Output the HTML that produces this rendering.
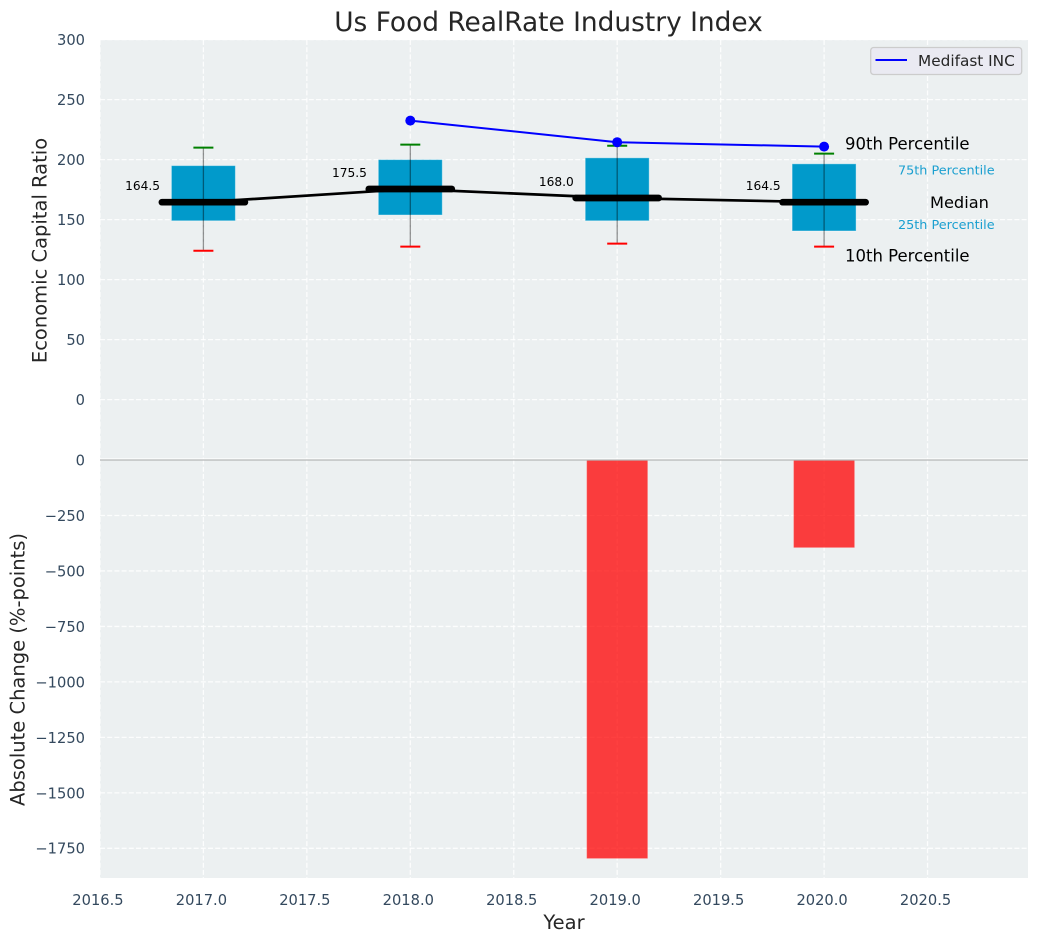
<!DOCTYPE html>
<html lang="en">
<head>
<meta charset="utf-8">
<title>Us Food RealRate Industry Index</title>
<style>
html,body{margin:0;padding:0;background:#fff}
svg{display:block}
text{font-family:"DejaVu Sans",sans-serif}
.tick{font-size:14.67px;fill:#34495e}
.axis-title{font-size:19.5px;fill:#262626}
</style>
</head>
<body>
<svg id="chart" xmlns="http://www.w3.org/2000/svg" width="1039" height="942" viewBox="0 0 1039 942">
  <rect x="0" y="0" width="1039" height="942" fill="#ffffff"/>
  <rect x="100" y="40" width="928" height="418.5" fill="#ecf0f1"/>
  <rect x="100" y="459.5" width="928" height="418.5" fill="#ecf0f1"/>
  <g id="grid"></g>
  <g id="bars"></g>
  <g id="boxes"></g>
  <g id="lines"></g>
  <g id="ticks"></g>
  <g id="notes"></g>
  <text x="548.5" y="31" text-anchor="middle" font-size="26.4" fill="#262626">Us Food RealRate Industry Index</text>
  <text class="axis-title" text-anchor="middle" transform="translate(46.5,250.5) rotate(-90)">Economic Capital Ratio</text>
  <text class="axis-title" text-anchor="middle" transform="translate(24.5,669.5) rotate(-90)">Absolute Change (%-points)</text>
  <text class="axis-title" x="564" y="929" text-anchor="middle">Year</text>
  <g>
    <rect x="870.7" y="47.5" width="151" height="27" rx="3" fill="#eaeaf2" stroke="#cccccc" stroke-width="1.3"/>
    <line x1="875.5" y1="60" x2="907" y2="60" stroke="#0000ff" stroke-width="2"/>
    <text x="918" y="66" font-size="15.3" fill="#262626">Medifast INC</text>
  </g>
</svg>
<script>
var years = [2017, 2018, 2019, 2020];
var p10 = [124, 127.5, 130, 127.5];
var p25 = [149, 153.8, 149, 140.5];
var medians = [164.5, 175.5, 168, 164.5];
var p75 = [195, 200, 201.5, 196.5];
var p90 = [210, 212.5, 211.5, 205];
var companyYears = [2018, 2019, 2020];
var companyValues = [232.5, 214.5, 210.8];
var changeYears = [2019, 2020];
var changeValues = [-1796, -395];
var xTicks = [2016.5, 2017, 2017.5, 2018, 2018.5, 2019, 2019.5, 2020, 2020.5];
var yTicksTop = [0, 50, 100, 150, 200, 250, 300];
var yTicksBottom = [0, -250, -500, -750, -1000, -1250, -1500, -1750];

function xScale(v) { return 203.4 + (v - 2017) * 206.9; }
function yTop(v) { return 399.6 - v * 1.2; }
function yBottom(v) { return 460 - v * 0.2219; }

var NS = 'http://www.w3.org/2000/svg';
function make(tag, parent, props) {
  var el = document.createElementNS(NS, tag);
  for (var k in props) { el.setAttribute(k, props[k]); }
  parent.appendChild(el);
  return el;
}
var gridG = document.getElementById('grid');
var barsG = document.getElementById('bars');
var boxesG = document.getElementById('boxes');
var linesG = document.getElementById('lines');
var ticksG = document.getElementById('ticks');
var notesG = document.getElementById('notes');
var GRID = {stroke: '#ffffff', 'stroke-width': 1.3, 'stroke-dasharray': '5,2.2', 'stroke-opacity': 0.85};
function gridProps(a, b, c, d) {
  return {x1: a, y1: b, x2: c, y2: d, stroke: GRID.stroke, 'stroke-width': GRID['stroke-width'], 'stroke-dasharray': GRID['stroke-dasharray'], 'stroke-opacity': GRID['stroke-opacity']};
}

xTicks.forEach(function (t) {
  var px = xScale(t);
  var g1 = make('line', gridG, gridProps(px, 40, px, 458.5));
  
  
  var g2 = make('line', gridG, gridProps(px, 459.5, px, 878));
  
  
  var label = make('text', ticksG, {x: px - 2, y: 905, 'text-anchor': 'middle', 'class': 'tick'});
  
  
  label.textContent = t.toFixed(1);
});
yTicksTop.forEach(function (t) {
  var py = yTop(t);
  var g = make('line', gridG, gridProps(100, py, 1028, py));
  
  
  var label = make('text', ticksG, {x: 85, y: py + 5.4, 'text-anchor': 'end', 'class': 'tick'});
  
  
  label.textContent = String(t);
});
yTicksBottom.forEach(function (t) {
  var py = yBottom(t);
  if (t !== 0) {
    var g = make('line', gridG, gridProps(100, py, 1028, py));
    
    
  }
  var label = make('text', ticksG, {x: 85, y: py + 5.4, 'text-anchor': 'end', 'class': 'tick'});
  
  
  label.textContent = String(t).replace('-', '\u2212');
});

var white = make('line', gridG, {x1: 100, y1: 459, x2: 1028, y2: 459, stroke: '#ffffff', 'stroke-width': 1.3});



changeValues.forEach(function (v, i) {
  var cx = xScale(changeYears[i]);
  var y0 = yBottom(0);
  var y1 = yBottom(v);
  var bar = make('rect', barsG, {x: cx - 30.5, y: y0, width: 61, height: y1 - y0, fill: '#ff0000', 'fill-opacity': 0.75, stroke: '#ffffff', 'stroke-opacity': 0.2, 'stroke-width': 1});
  
  
});
var zeroLine = make('line', barsG, {x1: 100, y1: yBottom(0), x2: 1028, y2: yBottom(0), stroke: '#b4b6b7', 'stroke-width': 1.3});



years.forEach(function (yr, i) {
  var cx = xScale(yr);
  var box = make('rect', boxesG, {x: cx - 32, y: yTop(p75[i]), width: 64, height: yTop(p25[i]) - yTop(p75[i]), fill: '#019acb', stroke: '#ffffff', 'stroke-opacity': 0.4, 'stroke-width': 1});
  
  
});

var mediansLine = make('polyline', linesG, {points: years.map(function (yr, i) { return xScale(yr) + ',' + yTop(medians[i]); }).join(' '), fill: 'none', stroke: '#000000', 'stroke-width': 2.7});



years.forEach(function (yr, i) {
  var cx = xScale(yr);
  var medianBar = make('line', linesG, {x1: cx - 41.5, y1: yTop(medians[i]), x2: cx + 41.5, y2: yTop(medians[i]), stroke: '#000000', 'stroke-width': 6.7, 'stroke-linecap': 'round'});
  
  
  var whisker = make('line', linesG, {x1: cx, y1: yTop(p90[i]), x2: cx, y2: yTop(p10[i]), stroke: '#000000', 'stroke-opacity': 0.42, 'stroke-width': 1.3});
  
  
  var capHigh = make('line', linesG, {x1: cx - 10, y1: yTop(p90[i]), x2: cx + 10, y2: yTop(p90[i]), stroke: '#008000', 'stroke-width': 2});
  
  
  var capLow = make('line', linesG, {x1: cx - 10, y1: yTop(p10[i]), x2: cx + 10, y2: yTop(p10[i]), stroke: '#ff0000', 'stroke-width': 2});
  
  
  var valueLabel = make('text', notesG, {x: cx - 43.4, y: yTop(medians[i]) - 12, 'text-anchor': 'end', 'font-size': 12.2, fill: '#000000'});
  
  
  valueLabel.textContent = medians[i].toFixed(1);
});

var companyLine = make('polyline', linesG, {points: companyYears.map(function (yr, i) { return xScale(yr) + ',' + yTop(companyValues[i]); }).join(' '), fill: 'none', stroke: '#0000ff', 'stroke-width': 2});


companyYears.forEach(function (yr, i) {
  var dot = make('circle', linesG, {cx: xScale(yr), cy: yTop(companyValues[i]), r: 5, fill: '#0000ff'});
  
  
});

var last = years.length - 1;
var note90 = make('text', notesG, {x: 845, y: yTop(p90[last]) - 4.2, 'font-size': 16.5, fill: '#000000'});


note90.textContent = '90th Percentile';
var note75 = make('text', notesG, {x: 898, y: yTop(p75[last]) + 10.5, 'font-size': 12.8, fill: '#1a9fd0'});


note75.textContent = '75th Percentile';
var noteMedian = make('text', notesG, {x: 930, y: yTop(medians[last]) + 5.8, 'font-size': 16.2, fill: '#000000'});


noteMedian.textContent = 'Median';
var note25 = make('text', notesG, {x: 898, y: yTop(p25[last]) - 2, 'font-size': 12.8, fill: '#1a9fd0'});


note25.textContent = '25th Percentile';
var note10 = make('text', notesG, {x: 845, y: yTop(p10[last]) + 14.8, 'font-size': 16.5, fill: '#000000'});


note10.textContent = '10th Percentile';
</script>
</body>
</html>
